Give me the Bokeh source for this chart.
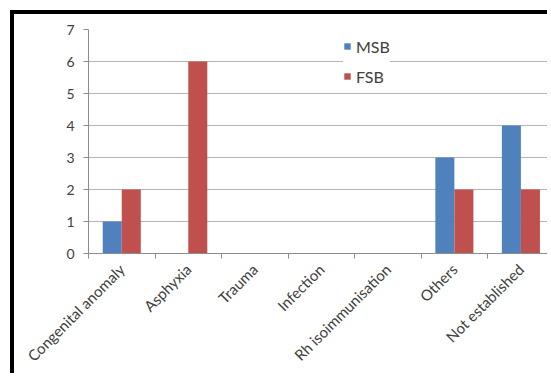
import math

from bokeh.embed import file_html
from bokeh.models import ColumnDataSource, FixedTicker, Legend, LegendItem, Range1d
from bokeh.plotting import figure
from bokeh.resources import INLINE
from bokeh.transform import dodge

# Causes of stillbirth and counts per group
categories = ["Congenital anomaly", "Asphyxia", "Trauma", "Infection",
              "Rh isoimmunisation", "Others", "Not established"]
msb = [1, 0, 0, 0, 0, 3, 4]
fsb = [2, 6, 0, 0, 0, 2, 2]
y_ticks = [0, 1, 2, 3, 4, 5, 6, 7]

BLUE = "#4F81BD"
RED = "#C0504D"
GRID = "#b4b4b4"
AXIS = "#8c8c8c"
TEXT = "#404040"
FONT = "Lato"

centers = [i + 0.5 for i in range(len(categories))]
source = ColumnDataSource(dict(pos=centers, msb=msb, fsb=fsb))

p = figure(
    width=537, height=363,
    x_range=Range1d(0, 6.96), y_range=Range1d(0, 7),
    output_backend="svg", toolbar_location=None,
    min_border_left=74, min_border_top=15,
    min_border_bottom=124, min_border_right=0,
)
p.styles = {
    "margin-left": "10px", "margin-top": "10px",
    "border-left": "4px solid #000", "border-top": "4px solid #000",
}

bar_w = 0.286
r_msb = p.vbar(x=dodge("pos", -bar_w / 2, range=p.x_range), top="msb", width=bar_w,
               source=source, fill_color=BLUE, line_color=None)
r_fsb = p.vbar(x=dodge("pos", bar_w / 2, range=p.x_range), top="fsb", width=bar_w,
               source=source, fill_color=RED, line_color=None)

p.outline_line_color = None
p.background_fill_color = "white"
p.border_fill_color = "white"

p.xgrid.visible = False
p.ygrid.grid_line_color = GRID
p.ygrid.ticker = FixedTicker(ticks=y_ticks)

# x axis: labels at category centres, tick marks at category boundaries
xa = p.xaxis[0]
xa.ticker = FixedTicker(ticks=centers, minor_ticks=list(range(len(categories) + 1)))
xa.major_label_overrides = {c: name for c, name in zip(centers, categories)}
xa.major_label_orientation = math.pi / 4
xa.major_tick_out = 0
xa.major_tick_in = 0
xa.minor_tick_out = 5
xa.minor_tick_in = 0
xa.minor_tick_line_color = AXIS
xa.axis_line_color = AXIS
xa.major_label_text_font = FONT
xa.major_label_text_font_size = "15px"
xa.major_label_text_color = TEXT
xa.major_label_standoff = 8

ya = p.yaxis[0]
ya.ticker = FixedTicker(ticks=y_ticks)
ya.major_tick_out = 5
ya.major_tick_in = 0
ya.minor_tick_out = 0
ya.minor_tick_in = 0
ya.major_tick_line_color = AXIS
ya.axis_line_color = AXIS
ya.major_label_text_font = FONT
ya.major_label_text_font_size = "14px"
ya.major_label_text_color = TEXT
ya.major_label_standoff = 9

legend = Legend(
    items=[LegendItem(label="MSB", renderers=[r_msb]),
           LegendItem(label="FSB", renderers=[r_fsb])],
    location=(255, 167),
    glyph_width=8, glyph_height=8,
    label_height=20, spacing=10, padding=6, label_standoff=5,
    label_text_font=FONT, label_text_font_size="16px", label_text_color=TEXT,
    border_line_color=None, background_fill_color="white", background_fill_alpha=1.0,
)
p.add_layout(legend)

open("out.html", "w").write(file_html(p, INLINE))
